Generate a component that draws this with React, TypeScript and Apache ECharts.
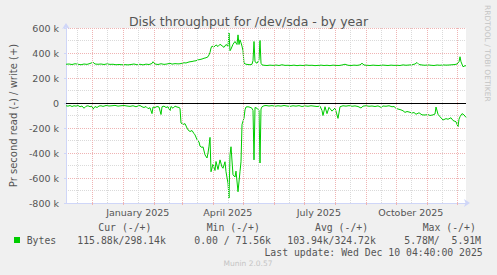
import React, { useEffect, useRef } from 'react';
import * as echarts from 'echarts';

const DAY = 86400000;
const START = Date.UTC(2024, 10, 5, 4, 40);
const END = START + 400 * DAY;

// [day offset from start, kB/s]
const writePoints: [number, number][] = [
  [0,310],[3,312],[6,308],[9,314],[12,310],[15,306],[18,312],[21,309],[24,316],[27,326],[29,312],[32,310],[35,312],[38,308],[41,313],[44,309],[47,310],[50,306],[53,308],[56,306],[59,307],[62,305],[65,308],[68,312],[71,306],[74,310],[77,305],[80,311],[83,308],[86,316],[87,330],[89,312],[92,308],[95,314],[98,309],[101,312],[104,318],[106,311],[109,315],[112,313],[114,314],[116,318],[118,322],[120,320],[122,326],[124,330],[126,332],[128,336],[130,338],[132,345],[134,348],[136,352],[138,358],[140,362],[142,370],[143,385],[144,405],[145,440],[146,455],[148,448],[150,465],[152,452],[154,470],[156,458],[158,445],[160,468],[162,455],[163,560],[164,418],[165,432],[167,470],[169,492],[171,468],[172,545],[173,468],[174,505],[175,482],[176,455],[177,418],[178,318],[180,310],[182,308],[184,306],[186,310],[187,340],[188,492],[189,330],[191,318],[193,345],[194,500],[195,318],[196,305],[198,302],[201,300],[204,303],[207,301],[210,304],[213,300],[216,306],[219,301],[222,302],[225,300],[228,303],[231,299],[234,302],[237,300],[240,304],[243,301],[246,302],[249,299],[252,301],[255,303],[258,300],[261,302],[264,299],[267,303],[270,301],[273,300],[276,304],[279,310],[282,302],[285,300],[288,303],[291,301],[294,305],[296,318],[298,304],[301,302],[304,300],[307,303],[310,301],[313,300],[316,304],[319,302],[322,300],[325,303],[328,301],[331,302],[334,300],[337,305],[340,302],[343,304],[346,306],[349,312],[351,324],[353,308],[356,304],[359,302],[362,305],[365,302],[368,300],[371,304],[374,302],[377,305],[380,303],[383,304],[386,306],[389,308],[391,312],[393,330],[394,370],[395,330],[397,290],[399,298],[400,298],
];

const readPoints: [number, number][] = [
  [0,-22],[2,-25],[4,-20],[6,-28],[8,-22],[10,-25],[12,-20],[14,-30],[16,-24],[18,-42],[20,-26],[22,-22],[24,-30],[26,-25],[27,-50],[29,-28],[31,-36],[33,-24],[35,-22],[37,-27],[40,-20],[43,-24],[46,-22],[49,-19],[52,-25],[55,-22],[58,-20],[61,-24],[64,-27],[67,-22],[70,-30],[72,-24],[74,-20],[76,-30],[78,-36],[80,-28],[82,-45],[84,-38],[86,-85],[87,-32],[89,-36],[91,-28],[93,-32],[95,-92],[96,-30],[98,-25],[100,-36],[102,-30],[104,-62],[105,-28],[107,-42],[109,-25],[111,-32],[113,-36],[114,-42],[115,-160],[117,-172],[119,-165],[121,-200],[122,-215],[124,-228],[126,-220],[128,-245],[129,-255],[131,-293],[133,-312],[134,-345],[136,-356],[137,-350],[139,-415],[141,-440],[142,-400],[143,-345],[144,-275],[145,-550],[147,-490],[149,-540],[150,-468],[152,-532],[154,-455],[156,-512],[157,-522],[159,-470],[160,-550],[162,-642],[163,-760],[164,-415],[165,-350],[167,-575],[169,-592],[170,-545],[172,-710],[174,-548],[175,-470],[176,-172],[178,-120],[179,-55],[180,-32],[182,-30],[184,-34],[186,-42],[187,-60],[188,-455],[189,-36],[191,-42],[193,-60],[194,-480],[195,-48],[196,-30],[198,-22],[200,-20],[203,-24],[206,-21],[209,-26],[212,-22],[215,-25],[218,-20],[221,-24],[224,-27],[227,-22],[230,-25],[233,-21],[236,-28],[239,-23],[242,-26],[245,-22],[248,-25],[251,-28],[254,-25],[256,-60],[257,-100],[259,-30],[261,-85],[263,-35],[266,-65],[269,-40],[271,-95],[272,-123],[274,-30],[277,-22],[280,-25],[283,-21],[286,-26],[289,-23],[292,-28],[295,-40],[297,-25],[300,-22],[303,-26],[306,-24],[309,-28],[312,-23],[315,-35],[317,-24],[320,-26],[323,-22],[326,-30],[328,-28],[330,-43],[332,-48],[335,-55],[337,-62],[339,-75],[341,-68],[343,-72],[346,-80],[348,-76],[350,-90],[353,-78],[356,-95],[359,-96],[362,-92],[364,-100],[367,-95],[369,-88],[370,-32],[372,-90],[374,-110],[377,-136],[380,-125],[382,-130],[385,-118],[387,-140],[390,-150],[392,-190],[393,-130],[394,-110],[396,-85],[398,-95],[400,-115],
];

const yTickValuesK = [-800, -600, -400, -200, 0, 200, 400, 600];
const xLabelDates = [Date.UTC(2025, 0, 16), Date.UTC(2025, 3, 16), Date.UTC(2025, 6, 16), Date.UTC(2025, 9, 16)];
const xLabelTexts = ['January 2025', 'April 2025', 'July 2025', 'October 2025'];

const legendHeaders = ['Cur (-/+)', 'Min (-/+)', 'Avg (-/+)', 'Max (-/+)'];
const legendValues = ['115.88k/298.14k', '0.00 / 71.56k', '103.94k/324.72k', '5.78M/\u00a0\u00a05.91M'];
const legendName = 'Bytes';
const lastUpdate = 'Last update: Wed Dec 10 04:40:00 2025';

const GREEN = '#00cc00';
const FONT = '#555555';
const MAJOR = '#efb4b4';
const MINOR = '#dadada';

function monthStarts(): number[] {
  const out: number[] = [];
  for (let y = 2024; y <= 2025; y++) {
    for (let m = 0; m < 12; m++) {
      const t = Date.UTC(y, m, 1);
      if (t > START && t < END) out.push(t);
    }
  }
  return out;
}
function midMonths(): number[] {
  const out: number[] = [];
  for (let y = 2024; y <= 2025; y++) {
    for (let m = 0; m < 12; m++) {
      const t = Date.UTC(y, m, 16);
      if (t > START && t < END) out.push(t);
    }
  }
  return out;
}

export default function App() {
  const ref = useRef<HTMLDivElement>(null);
  useEffect(() => {
    document.body.style.margin = '0';
    const chart = echarts.init(ref.current!, undefined, { renderer: 'svg' });
    const majors = monthStarts();
    const minors = midMonths();
    const mono = '"DejaVu Sans Mono", monospace';
    const legendX = [98.3, 206.7, 315, 422.7];
    const valueX = [77.3, 194.3, 287.3, 404.3];
    const option: any = {
      animation: false,
      backgroundColor: '#f0f0f0',
      textStyle: { fontFamily: 'DejaVu Sans' },
      title: {
        text: 'Disk throughput for /dev/sda - by year',
        left: 'center',
        top: 10,
        textStyle: { fontSize: 12.5, fontWeight: 'normal', color: FONT, fontFamily: 'DejaVu Sans' },
      },
      grid: { left: 66, right: 31, top: 28, bottom: 72, show: true, backgroundColor: '#ffffff', borderWidth: 0 },
      xAxis: {
        type: 'value',
        min: START,
        max: END,
        axisLine: {
          show: true,
          onZero: false,
          lineStyle: { color: '#cfd6f8', width: 1 },
          symbol: ['none', 'arrow'],
          symbolSize: [6, 6],
          symbolOffset: [0, 4],
        },
        axisTick: { show: true, customValues: majors, length: 2, lineStyle: { color: MAJOR } },
        axisLabel: {
          customValues: xLabelDates,
          formatter: (v: number) => {
            const i = xLabelDates.indexOf(v);
            return i >= 0 ? xLabelTexts[i] : '';
          },
          color: FONT,
          fontSize: 9.5,
          margin: 4,
          fontFamily: 'DejaVu Sans',
        },
        splitLine: { show: false },
      },
      yAxis: {
        type: 'value',
        min: yTickValuesK[0] * 1000,
        max: yTickValuesK[yTickValuesK.length - 1] * 1000,
        interval: 200000,
        name: 'Pr second read (-) / write (+)',
        nameLocation: 'middle',
        nameGap: 48,
        nameTextStyle: { color: FONT, fontSize: 10, fontFamily: 'DejaVu Sans' },
        axisLine: {
          show: true,
          lineStyle: { color: '#cfd6f8', width: 1 },
          symbol: ['none', 'arrow'],
          symbolSize: [6, 6],
          symbolOffset: [0, 5],
        },
        axisTick: { show: true, length: 2, lineStyle: { color: '#cfd6f8' } },
        axisLabel: {
          formatter: (v: number) => (v === 0 ? '0' : `${v / 1000} k`),
          color: FONT,
          fontSize: 9.5,
          margin: 7,
          fontFamily: 'DejaVu Sans',
        },
        splitLine: { show: true, lineStyle: { color: MAJOR, type: [1, 1], width: 1 } },
        minorTick: { show: false, splitNumber: 2 },
        minorSplitLine: { show: true, lineStyle: { color: MINOR, type: [1, 1], width: 1 } },
      },
      series: [
        {
          type: 'line',
          data: [[START, 0]],
          showSymbol: false,
          symbol: 'none',
          lineStyle: { opacity: 0 },
          silent: true,
          z: 1,
          markLine: {
            silent: true,
            symbol: ['none', 'none'],
            label: { show: false },
            lineStyle: { type: [1, 1], width: 1 },
            data: [
              ...minors.map((t) => ({ xAxis: t, lineStyle: { color: MINOR, type: [1, 1], width: 1 } })),
              ...majors.map((t) => ({ xAxis: t, lineStyle: { color: MAJOR, type: [1, 1], width: 1 } })),
            ],
          },
        },
        {
          type: 'line',
          data: [[START, 0]],
          showSymbol: false,
          symbol: 'none',
          lineStyle: { opacity: 0 },
          silent: true,
          z: 4,
          markLine: {
            silent: true,
            symbol: ['none', 'none'],
            label: { show: false },
            data: [{ yAxis: 0, lineStyle: { color: '#000000', type: 'solid', width: 1 } }],
          },
        },
        {
          type: 'line',
          name: 'write',
          data: writePoints.map(([d, k]) => [START + d * DAY, k * 1000]),
          showSymbol: false,
          symbol: 'none',
          lineStyle: { color: GREEN, width: 1 },
          z: 3,
        },
        {
          type: 'line',
          name: 'read',
          data: readPoints.map(([d, k]) => [START + d * DAY, k * 1000]),
          showSymbol: false,
          symbol: 'none',
          lineStyle: { color: GREEN, width: 1 },
          z: 3,
        },
      ],
      graphic: [
        ...legendHeaders.map((t, i) => ({
          type: 'text', x: legendX[i], y: 227.5,
          style: { text: t, font: `9.8px ${mono}`, fill: FONT, textAlign: 'left', textVerticalAlign: 'middle' },
        })),
        { type: 'rect', shape: { x: 14, y: 237, width: 6, height: 6 }, style: { fill: GREEN } },
        {
          type: 'text', x: 26.7, y: 240,
          style: { text: legendName, font: `9.8px ${mono}`, fill: FONT, textAlign: 'left', textVerticalAlign: 'middle' },
        },
        ...legendValues.map((t, i) => ({
          type: 'text', x: valueX[i], y: 240,
          style: { text: t, font: `9.8px ${mono}`, fill: FONT, textAlign: 'left', textVerticalAlign: 'middle' },
        })),
        {
          type: 'text', x: 482.7, y: 252,
          style: { text: lastUpdate, font: `9.8px ${mono}`, fill: FONT, textAlign: 'right', textVerticalAlign: 'middle' },
        },
        {
          type: 'text', x: 248, y: 263.5,
          style: { text: 'Munin 2.0.57', font: '7.5px "DejaVu Sans"', fill: '#c4c4c4', textAlign: 'center', textVerticalAlign: 'middle' },
        },
        {
          type: 'text', x: 487, y: 5, rotation: -Math.PI / 2,
          style: { text: 'RRDTOOL / TOBI OETIKER', font: '7.5px "DejaVu Sans"', fill: '#c4c4c4', textAlign: 'left', textVerticalAlign: 'middle' },
        },
      ],
    };
    chart.setOption(option);
    return () => chart.dispose();
  }, []);
  return <div ref={ref} style={{ width: 497, height: 275 }} />;
}
